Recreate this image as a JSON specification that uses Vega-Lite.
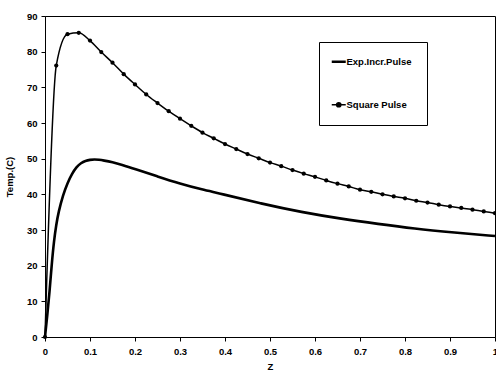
{
  "$schema": "https://vega.github.io/schema/vega-lite/v6.json",
  "width": 450,
  "height": 321,
  "autosize": "none",
  "padding": {"left": 45, "top": 16, "right": 1, "bottom": 43},
  "background": "white",
  "config": {
    "view": {"stroke": "black", "strokeWidth": 1},
    "font": "Liberation Sans",
    "axis": {
      "grid": false,
      "domainColor": "black",
      "tickColor": "black",
      "labelColor": "black",
      "titleColor": "black",
      "labelFont": "Liberation Sans",
      "titleFont": "Liberation Sans",
      "labelFontSize": 9.5,
      "labelFontWeight": "bold",
      "titleFontSize": 9.5,
      "titleFontWeight": "bold",
      "tickSize": 4
    },
    "legend": {
      "labelFont": "Liberation Sans",
      "labelFontSize": 9.5,
      "labelFontWeight": "bold",
      "labelColor": "black"
    }
  },
  "datasets": {
    "exp": [
      {"series": "Exp.Incr.Pulse", "z": 0, "temp": 0},
      {"series": "Exp.Incr.Pulse", "z": 0.005, "temp": 6},
      {"series": "Exp.Incr.Pulse", "z": 0.01, "temp": 12.5},
      {"series": "Exp.Incr.Pulse", "z": 0.015, "temp": 20.5},
      {"series": "Exp.Incr.Pulse", "z": 0.02, "temp": 27},
      {"series": "Exp.Incr.Pulse", "z": 0.025, "temp": 31.5},
      {"series": "Exp.Incr.Pulse", "z": 0.03, "temp": 35},
      {"series": "Exp.Incr.Pulse", "z": 0.04, "temp": 39.8},
      {"series": "Exp.Incr.Pulse", "z": 0.05, "temp": 43.2},
      {"series": "Exp.Incr.Pulse", "z": 0.06, "temp": 45.8},
      {"series": "Exp.Incr.Pulse", "z": 0.07, "temp": 47.7},
      {"series": "Exp.Incr.Pulse", "z": 0.08, "temp": 48.8},
      {"series": "Exp.Incr.Pulse", "z": 0.09, "temp": 49.4},
      {"series": "Exp.Incr.Pulse", "z": 0.1, "temp": 49.7},
      {"series": "Exp.Incr.Pulse", "z": 0.11, "temp": 49.8},
      {"series": "Exp.Incr.Pulse", "z": 0.12, "temp": 49.7},
      {"series": "Exp.Incr.Pulse", "z": 0.13, "temp": 49.5},
      {"series": "Exp.Incr.Pulse", "z": 0.15, "temp": 49.0},
      {"series": "Exp.Incr.Pulse", "z": 0.17, "temp": 48.3},
      {"series": "Exp.Incr.Pulse", "z": 0.2, "temp": 47.1},
      {"series": "Exp.Incr.Pulse", "z": 0.25, "temp": 45.0},
      {"series": "Exp.Incr.Pulse", "z": 0.3, "temp": 43.0},
      {"series": "Exp.Incr.Pulse", "z": 0.35, "temp": 41.3},
      {"series": "Exp.Incr.Pulse", "z": 0.39, "temp": 40.2},
      {"series": "Exp.Incr.Pulse", "z": 0.48, "temp": 37.4},
      {"series": "Exp.Incr.Pulse", "z": 0.57, "temp": 35.0},
      {"series": "Exp.Incr.Pulse", "z": 0.66, "temp": 33.1},
      {"series": "Exp.Incr.Pulse", "z": 0.74, "temp": 31.7},
      {"series": "Exp.Incr.Pulse", "z": 0.82, "temp": 30.4},
      {"series": "Exp.Incr.Pulse", "z": 0.91, "temp": 29.3},
      {"series": "Exp.Incr.Pulse", "z": 1.0, "temp": 28.3}
    ],
    "square": [
      {"series": "Square Pulse", "z": 0, "temp": 0},
      {"series": "Square Pulse", "z": 0.025, "temp": 76.1},
      {"series": "Square Pulse", "z": 0.05, "temp": 84.9},
      {"series": "Square Pulse", "z": 0.075, "temp": 85.3},
      {"series": "Square Pulse", "z": 0.1, "temp": 83.1},
      {"series": "Square Pulse", "z": 0.125, "temp": 79.9},
      {"series": "Square Pulse", "z": 0.15, "temp": 76.9},
      {"series": "Square Pulse", "z": 0.175, "temp": 73.7},
      {"series": "Square Pulse", "z": 0.2, "temp": 70.8},
      {"series": "Square Pulse", "z": 0.225, "temp": 68.0},
      {"series": "Square Pulse", "z": 0.25, "temp": 65.6},
      {"series": "Square Pulse", "z": 0.275, "temp": 63.3},
      {"series": "Square Pulse", "z": 0.3, "temp": 61.2},
      {"series": "Square Pulse", "z": 0.325, "temp": 59.2},
      {"series": "Square Pulse", "z": 0.35, "temp": 57.3},
      {"series": "Square Pulse", "z": 0.375, "temp": 55.7},
      {"series": "Square Pulse", "z": 0.4, "temp": 54.1},
      {"series": "Square Pulse", "z": 0.425, "temp": 52.7},
      {"series": "Square Pulse", "z": 0.45, "temp": 51.3},
      {"series": "Square Pulse", "z": 0.475, "temp": 50.1},
      {"series": "Square Pulse", "z": 0.5, "temp": 48.9},
      {"series": "Square Pulse", "z": 0.525, "temp": 47.9},
      {"series": "Square Pulse", "z": 0.55, "temp": 46.8},
      {"series": "Square Pulse", "z": 0.575, "temp": 45.8},
      {"series": "Square Pulse", "z": 0.6, "temp": 44.9},
      {"series": "Square Pulse", "z": 0.625, "temp": 43.9},
      {"series": "Square Pulse", "z": 0.65, "temp": 43.0},
      {"series": "Square Pulse", "z": 0.675, "temp": 42.2},
      {"series": "Square Pulse", "z": 0.7, "temp": 41.3},
      {"series": "Square Pulse", "z": 0.725, "temp": 40.7},
      {"series": "Square Pulse", "z": 0.75, "temp": 40.0},
      {"series": "Square Pulse", "z": 0.775, "temp": 39.4},
      {"series": "Square Pulse", "z": 0.8, "temp": 38.9},
      {"series": "Square Pulse", "z": 0.825, "temp": 38.2},
      {"series": "Square Pulse", "z": 0.85, "temp": 37.7},
      {"series": "Square Pulse", "z": 0.875, "temp": 37.1},
      {"series": "Square Pulse", "z": 0.9, "temp": 36.6},
      {"series": "Square Pulse", "z": 0.925, "temp": 36.2},
      {"series": "Square Pulse", "z": 0.95, "temp": 35.7},
      {"series": "Square Pulse", "z": 0.975, "temp": 35.2},
      {"series": "Square Pulse", "z": 1.0, "temp": 34.7}
    ]
  },
  "encoding": {
    "x": {
      "field": "z",
      "type": "quantitative",
      "title": "Z",
      "scale": {"domain": [0, 1], "nice": false},
      "axis": {
        "values": [0, 0.1, 0.2, 0.3, 0.4, 0.5, 0.6, 0.7, 0.8, 0.9, 1],
        "format": "~g",
        "labelPadding": 5,
        "titlePadding": 6,
        "labelFlush": false
      }
    },
    "y": {
      "field": "temp",
      "type": "quantitative",
      "title": "Temp.(C)",
      "scale": {"domain": [0, 90], "nice": false},
      "axis": {
        "values": [0, 10, 20, 30, 40, 50, 60, 70, 80, 90],
        "labelPadding": 4,
        "titlePadding": 12,
        "labelFlush": false
      }
    },
    "color": {
      "field": "series",
      "type": "nominal",
      "scale": {"domain": ["Exp.Incr.Pulse", "Square Pulse"], "range": ["black", "black"]},
      "legend": {
        "title": null,
        "orient": "none",
        "legendX": 274,
        "legendY": 26,
        "padding": 15,
        "strokeColor": "black",
        "fillColor": "white",
        "rowPadding": 32,
        "symbolType": "stroke",
        "symbolSize": 196,
        "labelOffset": 3,
        "encode": {
          "symbols": {
            "update": {
              "shape": {"signal": "datum.value === 'Square Pulse' ? 'M-1,0H1M-0.3,0A0.3,0.3,0,1,1,0.3,0A0.3,0.3,0,1,1,-0.3,0Z' : 'stroke'"},
              "fill": {"signal": "datum.value === 'Square Pulse' ? 'black' : 'transparent'"},
              "stroke": {"value": "black"},
              "strokeWidth": {"signal": "datum.value === 'Square Pulse' ? 1.5 : 2.5"}
            }
          }
        }
      }
    }
  },
  "layer": [
    {
      "data": {"name": "exp"},
      "mark": {"type": "line", "strokeWidth": 2.6, "interpolate": "basis"}
    },
    {
      "data": {"name": "square"},
      "mark": {"type": "line", "strokeWidth": 1.5, "interpolate": "monotone"}
    },
    {
      "data": {"name": "square"},
      "mark": {"type": "point", "filled": true, "size": 18, "opacity": 1, "shape": "circle"}
    }
  ]
}
